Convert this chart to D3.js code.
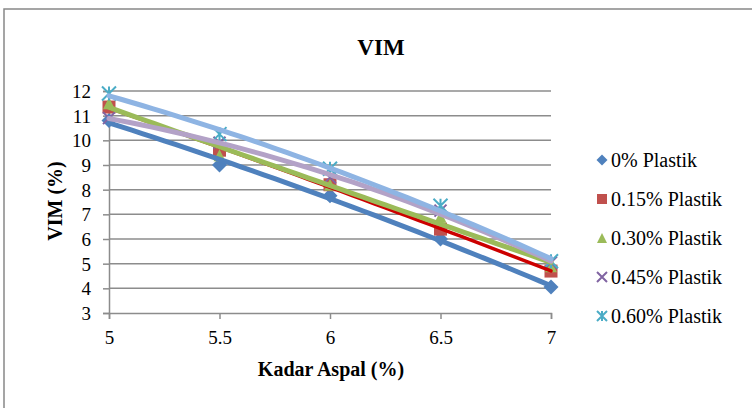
<!DOCTYPE html>
<html><head><meta charset="utf-8">
<script src="https://cdn.jsdelivr.net/npm/d3@7"></script>
<style>body{margin:0;background:#fff}svg{display:block}text{font-family:'Liberation Serif','Times New Roman',serif}</style>
</head><body>
<svg id="c" width="752" height="408"></svg>
<script>
const xValues = [5, 5.5, 6, 6.5, 7];
const seriesNames = ["0% Plastik", "0.15% Plastik", "0.30% Plastik", "0.45% Plastik", "0.60% Plastik"];
const s0 = [10.8, 9.0, 7.75, 6.0, 4.05];
const s15 = [11.35, 9.6, 8.2, 6.4, 4.7];
const s30 = [11.5, 9.4, 8.2, 6.9, 4.9];
const s45 = [10.9, 9.9, 8.5, 7.15, 5.05];
const s60 = [11.9, 10.25, 8.85, 7.35, 5.1];
const yTicks = [3, 4, 5, 6, 7, 8, 9, 10, 11, 12];
const xTicks = [5, 5.5, 6, 6.5, 7];
const markerColors = ["#4F81BD", "#C0504D", "#9BBB59", "#8064A2", "#4BACC6"];
const trendColors = ["#4F81BD", "#CC0000", "#9BBB59", "#B3A2C7", "#8EB4E3"];
const trendWidths = [5, 3.5, 5, 5, 5];
const markerTypes = ["diamond", "square", "triangle", "x", "star"];
const allSeries = [s0, s15, s30, s45, s60];

const svg = d3.select("#c");
const font = "'Liberation Serif','Times New Roman',serif";
const L = 109, R = 551, T = 91, B = 313;
const x = d3.scaleLinear().domain([5, 7]).range([L, R]);
const y = d3.scaleLinear().domain([3, 12]).range([B, T]);

// chart border
svg.append("rect").attr("x", 4).attr("y", 9).attr("width", 760).attr("height", 420)
  .attr("fill", "none").attr("stroke", "#888").attr("stroke-width", 1.5);

// gridlines
svg.append("g").selectAll("line").data(yTicks.slice(1)).join("line")
  .attr("x1", L).attr("x2", R).attr("y1", d => y(d)).attr("y2", d => y(d))
  .attr("stroke", "#8c8c8c").attr("stroke-width", 1.5);

// axes
const gy = svg.append("g").attr("transform", `translate(${L},0)`)
  .call(d3.axisLeft(y).tickValues(yTicks).tickSize(6).tickPadding(12).tickFormat(d3.format("d")));
const gx = svg.append("g").attr("transform", `translate(0,${B})`)
  .call(d3.axisBottom(x).tickValues(xTicks).tickSize(6).tickPadding(12).tickFormat(d => String(d)));
[gx, gy].forEach(g => {
  g.attr("font-family", null);
  g.select(".domain").attr("stroke", "#8c8c8c").attr("stroke-width", 1.5);
  g.selectAll(".tick line").attr("stroke", "#8c8c8c").attr("stroke-width", 1.5);
  g.selectAll("text").style("font-family", font).style("font-size", "19px").attr("fill", "#000");
});
gy.selectAll("text").attr("dy", "0.35em");

// markers
function markerPath(type, s) {
  const h = s / 2;
  switch (type) {
    case "diamond": return `M0,${-h}L${h},0L0,${h}L${-h},0Z`;
    case "square": return `M${-h},${-h}H${h}V${h}H${-h}Z`;
    case "triangle": return `M0,${-h}L${h},${h}L${-h},${h}Z`;
    case "x": return `M${-h},${-h}L${h},${h}M${h},${-h}L${-h},${h}`;
    case "star": return `M${-h},${-h}L${h},${h}M${h},${-h}L${-h},${h}M0,${-h}V${h}`;
  }
}
const msizes = [15, 13, 12, 12, 14];
allSeries.forEach((vals, i) => {
  const lineType = markerTypes[i] === "x" || markerTypes[i] === "star";
  svg.append("g").selectAll("path").data(vals).join("path")
    .attr("transform", (d, j) => `translate(${x(xValues[j])},${y(d)})`)
    .attr("d", markerPath(markerTypes[i], msizes[i]))
    .attr("fill", lineType ? "none" : markerColors[i])
    .attr("stroke", markerColors[i]).attr("stroke-width", lineType ? 2 : 0);
});

// polynomial (order 2) trendlines via least squares
function quadFit(xs, ys) {
  let n = xs.length, sx = 0, sx2 = 0, sx3 = 0, sx4 = 0, sy = 0, sxy = 0, sx2y = 0;
  xs.forEach((xv, k) => {
    const yv = ys[k];
    sx += xv; sx2 += xv * xv; sx3 += xv ** 3; sx4 += xv ** 4;
    sy += yv; sxy += xv * yv; sx2y += xv * xv * yv;
  });
  const A = [[n, sx, sx2], [sx, sx2, sx3], [sx2, sx3, sx4]];
  const bb = [sy, sxy, sx2y];
  const det = m => m[0][0]*(m[1][1]*m[2][2]-m[1][2]*m[2][1]) - m[0][1]*(m[1][0]*m[2][2]-m[1][2]*m[2][0]) + m[0][2]*(m[1][0]*m[2][1]-m[1][1]*m[2][0]);
  const D = det(A);
  const coef = [0, 1, 2].map(c => det(A.map((row, r) => row.map((v, k) => k === c ? bb[r] : v))) / D);
  return xv => coef[0] + coef[1] * xv + coef[2] * xv * xv;
}
const xs = d3.range(5, 7.0001, 0.05);
const line = d3.line().x(d => x(d[0])).y(d => y(d[1]));
allSeries.forEach((vals, i) => {
  const f = quadFit(xValues, vals);
  svg.append("path").attr("d", line(xs.map(v => [v, f(v)])))
    .attr("fill", "none").attr("stroke", trendColors[i]).attr("stroke-width", trendWidths[i])
    .attr("stroke-linecap", "round");
});

// title and axis titles
svg.append("text").attr("x", 381).attr("y", 55).attr("text-anchor", "middle")
  .style("font-family", font).attr("font-weight", "bold").attr("font-size", 23).text("VIM");
svg.append("text").attr("x", 331).attr("y", 376).attr("text-anchor", "middle")
  .style("font-family", font).attr("font-weight", "bold").attr("font-size", 20).text("Kadar Aspal (%)");
svg.append("text").attr("transform", "translate(62,201) rotate(-90)").attr("text-anchor", "middle")
  .style("font-family", font).attr("font-weight", "bold").attr("font-size", 20).text("VIM (%)");

// legend
const legY = [160, 199, 238, 277, 316];
seriesNames.forEach((name, i) => {
  const lineType = markerTypes[i] === "x" || markerTypes[i] === "star";
  svg.append("path").attr("transform", `translate(602,${legY[i]})`)
    .attr("d", markerPath(markerTypes[i], i === 0 ? 11 : 10))
    .attr("fill", lineType ? "none" : markerColors[i])
    .attr("stroke", markerColors[i]).attr("stroke-width", lineType ? 2 : 0);
  svg.append("text").attr("x", 611).attr("y", legY[i]).attr("dy", "0.35em")
    .style("font-family", font).attr("font-size", 20).text(name);
});
</script>
</body></html>
